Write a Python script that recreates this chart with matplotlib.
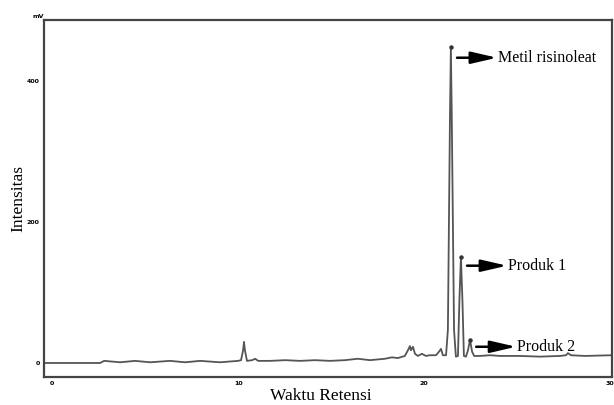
import numpy as np
import matplotlib
matplotlib.use("Agg")
import matplotlib.pyplot as plt

# chromatogram trace (retention time, intensity)
waktu = [-0.43, 2.58, 2.79, 3.65, 4.45, 5.26, 6.33, 7.14, 7.95, 9.02, 9.99,
         10.15, 10.26, 10.31, 10.36, 10.47, 10.75, 10.91, 11.07, 11.71, 12.52,
         13.32, 14.13, 14.93, 15.74, 16.43, 17.08, 17.89, 18.26, 18.58, 18.96,
         19.12, 19.23, 19.28, 19.39, 19.50, 19.66, 19.87, 20.09, 20.30, 20.63,
         20.79, 20.90, 21.00, 21.17, 21.27, 21.38, 21.43, 21.48, 21.60, 21.70,
         21.81, 21.89, 21.97, 22.05, 22.13, 22.24, 22.35, 22.46, 22.57, 22.68,
         23.00, 23.53, 24.07, 25.14, 26.22, 27.29, 27.62, 27.72, 27.88, 28.64,
         30.09]
intensitas = [0, 0, 3, 1, 3, 1, 3, 1, 3, 1, 3,
              4, 18, 30, 18, 3, 4, 6, 3, 3, 4,
              3, 4, 3, 4, 6, 4, 6, 8, 7, 10,
              18, 24, 18, 23, 13, 10, 13, 10, 11, 11,
              16, 20, 11, 11, 47, 345, 448, 345, 47, 9,
              10, 90, 150, 90, 10, 9, 18, 33, 16, 10,
              10, 11, 10, 10, 9, 10, 11, 14, 11, 10,
              11]

# labelled peaks
puncak_waktu = [21.43, 21.97, 22.46]
puncak_int = [448, 150, 33]
puncak_label = ["Metil risinoleat", "Produk 1", "Produk 2"]

x_ticks = [0, 10, 20, 30]
y_ticks = [0, 200, 400]

fig = plt.figure(figsize=(6.14, 4.05), dpi=100)
ax = fig.add_axes([0.0717, 0.0691, 0.925, 0.8815])

ax.plot(waktu, intensitas, color="#555555", lw=1.3)
ax.plot(puncak_waktu, puncak_int, "o", color="#333333", ms=2.2)

ax.set_xlim(-0.44, 30.09)
ax.set_ylim(-19.9, 486.5)
ax.set_xticks(x_ticks)
ax.set_yticks(y_ticks)
ax.tick_params(length=0, labelsize=4.5, pad=3)
for lab in ax.get_xticklabels() + ax.get_yticklabels():
    lab.set_fontweight("bold")
for s in ax.spines.values():
    s.set_linewidth(1.6)
    s.set_color("#444444")
ax.text(0, 1.003, "mV", transform=ax.transAxes, ha="right", va="bottom",
        fontsize=4.5, fontweight="bold")

# arrows pointing from each peak to its name
dx_tail, dx_head = 0.33, 2.48
y_off = [-15, -12, -10]
for t, i, lab, dy in zip(puncak_waktu, puncak_int, puncak_label, y_off):
    y = i + dy
    ax.annotate("", xy=(t + dx_head, y), xytext=(t + dx_tail, y),
                arrowprops=dict(arrowstyle="-|>,head_length=1.3,head_width=0.3",
                                color="black", lw=1.8, mutation_scale=12,
                                shrinkA=0, shrinkB=0))
    ax.text(t + dx_head + 0.03, y, lab, family="Liberation Serif",
            fontsize=11.5, ha="left", va="center")

ax.set_xlabel("Waktu Retensi", family="Liberation Serif", fontsize=12.5)
ax.set_ylabel("Intensitas", family="Liberation Serif", fontsize=12.5)
ax.xaxis.set_label_coords(0.488, -0.03)
ax.yaxis.set_label_coords(-0.032, 0.5)

fig.savefig("out.png", dpi=100)
